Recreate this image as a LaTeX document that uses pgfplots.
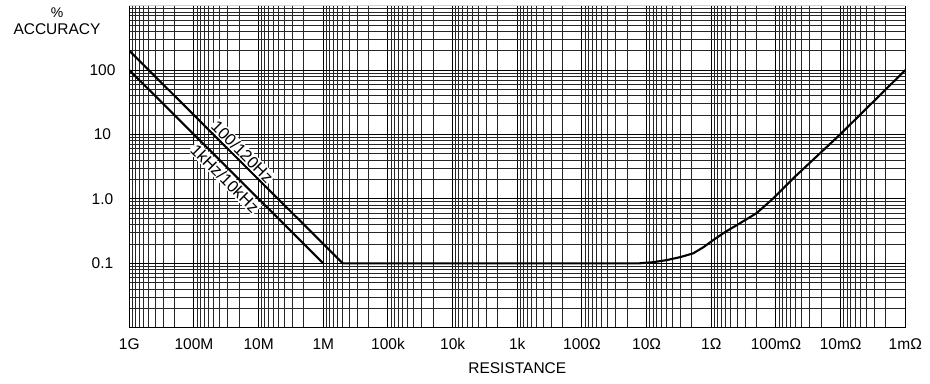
\documentclass[border=0pt]{standalone}
\usepackage{fontspec}
\setmainfont{Liberation Sans}
\usepackage{pgfplots}
\pgfplotsset{compat=1.18}
\begin{document}
\begin{tikzpicture}
\begin{axis}[
  scale only axis, width=776pt, height=322pt,
  xmode=log, ymode=log, x dir=reverse,
  xmin=1e-3, xmax=1e9, ymin=0.01, ymax=1000,
  xtick={1e9,1e8,1e7,1e6,1e5,1e4,1e3,1e2,1e1,1,1e-1,1e-2,1e-3},
  xticklabels={1G,100M,10M,1M,100k,10k,1k,100Ω,10Ω,1Ω,100mΩ,10mΩ,1mΩ},
  minor xtick={2e-3,3e-3,4e-3,5e-3,6e-3,7e-3,8e-3,9e-3,
    2e-2,3e-2,4e-2,5e-2,6e-2,7e-2,8e-2,9e-2,
    2e-1,3e-1,4e-1,5e-1,6e-1,7e-1,8e-1,9e-1,
    2,3,4,5,6,7,8,9,
    2e1,3e1,4e1,5e1,6e1,7e1,8e1,9e1,
    2e2,3e2,4e2,5e2,6e2,7e2,8e2,9e2,
    2e3,3e3,4e3,5e3,6e3,7e3,8e3,9e3,
    2e4,3e4,4e4,5e4,6e4,7e4,8e4,9e4,
    2e5,3e5,4e5,5e5,6e5,7e5,8e5,9e5,
    2e6,3e6,4e6,5e6,6e6,7e6,8e6,9e6,
    2e7,3e7,4e7,5e7,6e7,7e7,8e7,9e7,
    2e8,3e8,4e8,5e8,6e8,7e8,8e8,9e8},
  ytick={0.01,0.1,1,10,100,1000},
  yticklabels={,0.1,1.0,10,100,},
  minor ytick={0.02,0.03,0.04,0.05,0.06,0.07,0.08,0.09,
    0.2,0.3,0.4,0.5,0.6,0.7,0.8,0.9,
    2,3,4,5,6,7,8,9,
    20,30,40,50,60,70,80,90,
    200,300,400,500,600,700,800,900},
  grid=both,
  major grid style={black, line width=1pt},
  minor grid style={black!85, line width=0.8pt},
  major tick length=0pt, minor tick length=0pt,
  tick label style={font=\fontsize{15.5}{18}\selectfont},
  xticklabel style={anchor=base, inner sep=0pt, yshift=-21.8pt},
  yticklabel style={anchor=center, inner sep=0pt, xshift=-26.8pt},
  axis line style={draw=none},
  clip mode=individual,
]
\addplot[black, line width=2.1pt] coordinates {(1e9,200) (5e5,0.1)};
\addplot[black, line width=2.1pt] coordinates {(1e9,100) (1e6,0.1)};
\addplot[black, line width=2.1pt, line join=round] coordinates {
 (5e5,0.1) (20,0.1) (12.8,0.1) (8,0.104) (4.9,0.112) (3,0.125) (1.9,0.143) (1.3,0.18) (0.93,0.23) (0.6,0.31) (0.405,0.39) (0.2,0.6) (0.11,1.02) (0.054,2.09) (0.0209,5.1) (0.0102,10) (0.001,100)};
\node[rotate=-45, fill=white, inner sep=1pt, font=\fontsize{16.5}{18}\selectfont] at (axis cs:1.78e7,5.41) {100/120Hz};
\node[rotate=-45, fill=white, inner sep=1pt, font=\fontsize{16.5}{18}\selectfont] at (axis cs:3.31e7,2.09) {1kHz/10kHz};
\end{axis}
\draw[line width=1pt] (current axis.north west) -- (current axis.south west) -- (current axis.south east) -- (current axis.north east);
\draw[gray!35, line width=1pt] (current axis.north west) -- (current axis.north east);
\node[anchor=north, align=center, inner sep=0pt, font=\fontsize{15.5}{17}\selectfont] at ([shift={(-72.3pt,-2.3pt)}]current axis.north west) {{\fontsize{14}{14}\selectfont\%}\\ACCURACY};
\node[anchor=north, inner sep=0pt, font=\fontsize{15.5}{18}\selectfont] at ([yshift=-34.3pt]current axis.south) {RESISTANCE};
\pgfresetboundingbox
\path[use as bounding box] ([shift={(-129.3pt,-55.3pt)}]current axis.south west) rectangle ([shift={(24.7pt,5.7pt)}]current axis.north east);
\end{tikzpicture}
\end{document}
